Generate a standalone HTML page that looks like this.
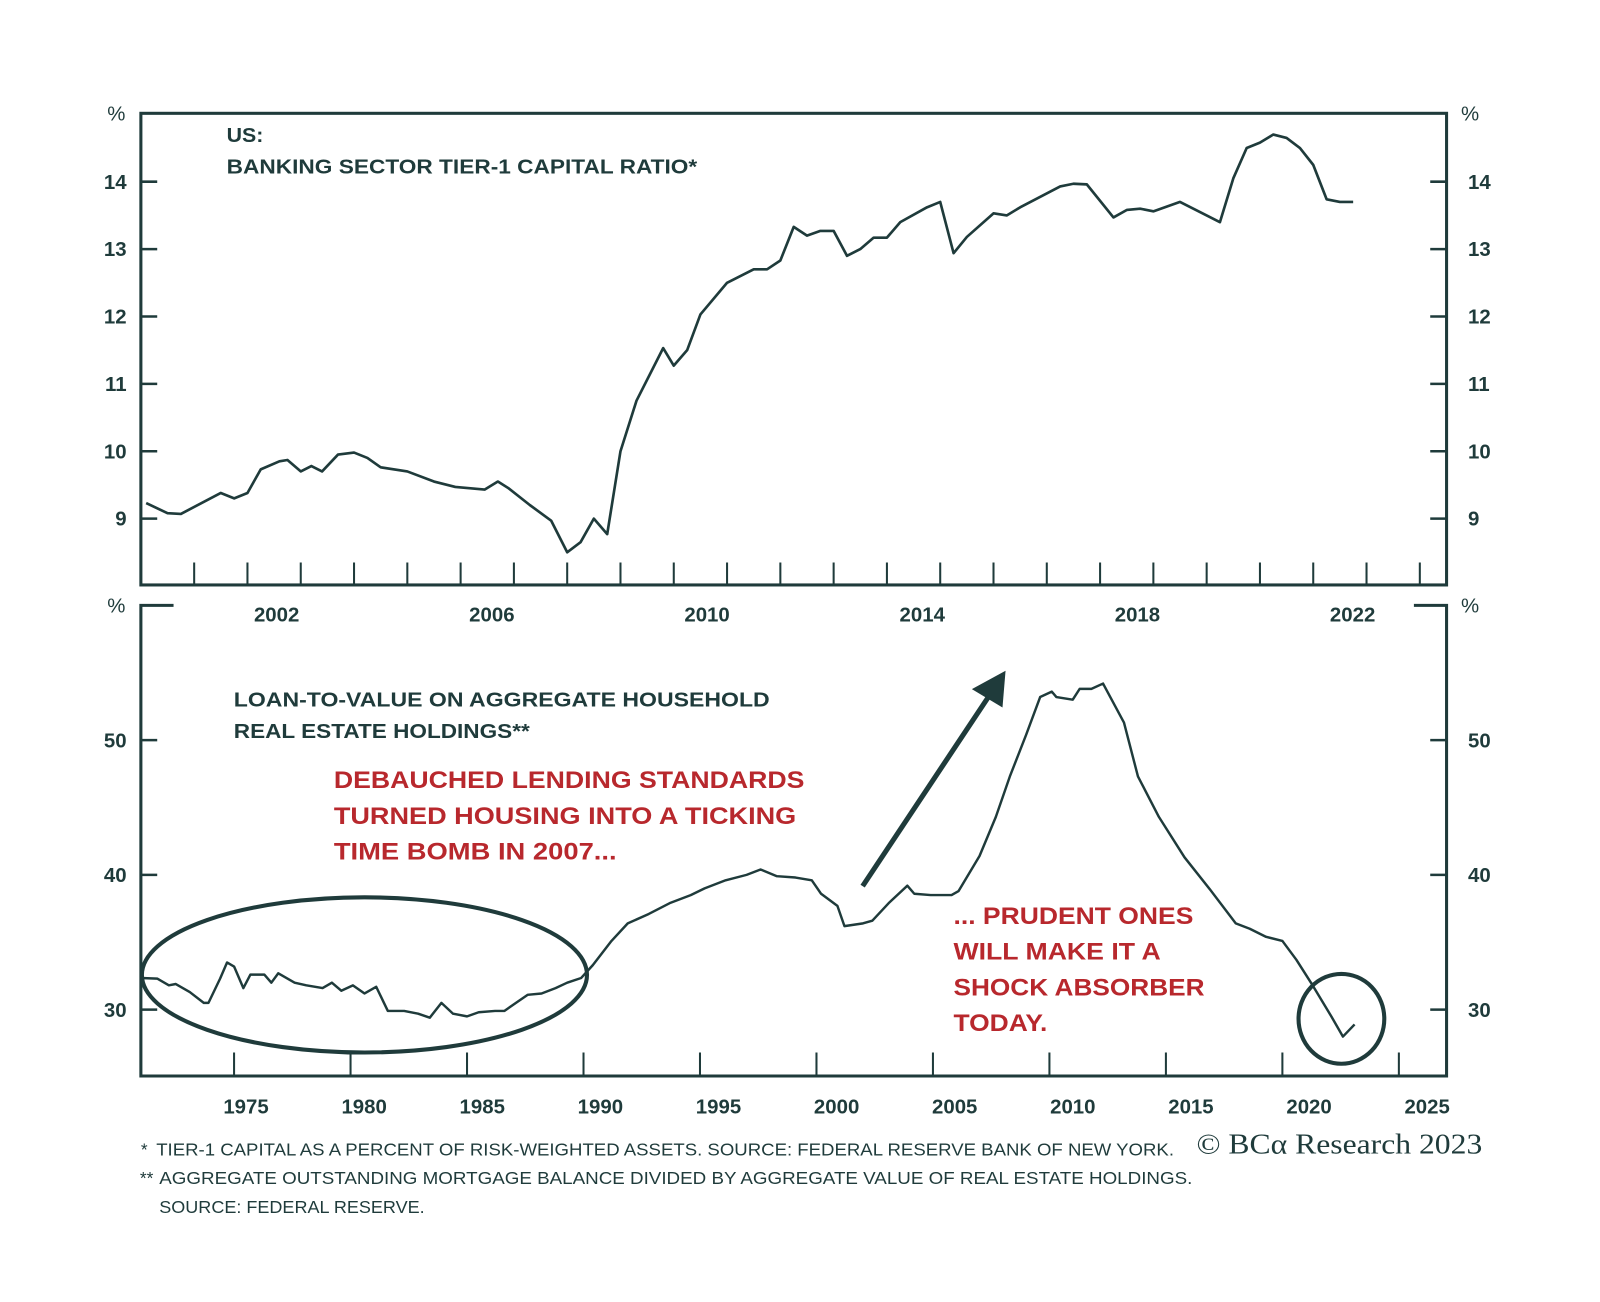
<!DOCTYPE html>
<html><head><meta charset="utf-8"><style>
html,body{margin:0;padding:0;background:#fff;}
svg{display:block;}
text{font-family:"Liberation Sans",sans-serif;}
</style></head><body>
<svg id="chart" width="1600" height="1302" viewBox="0 0 1567.3 1275.4" preserveAspectRatio="none" xmlns="http://www.w3.org/2000/svg">
<rect width="1570" height="1280" fill="#fff"/>
<g id="top"></g>
<g id="bot"></g>
<g font-weight="bold">
<text x="222" y="139" font-size="20" fill="#1f3b3b" textLength="36" lengthAdjust="spacingAndGlyphs">US:</text>
<text x="222" y="170" font-size="20" fill="#1f3b3b" textLength="461" lengthAdjust="spacingAndGlyphs">BANKING SECTOR TIER-1 CAPITAL RATIO*</text>
<text x="229" y="692" font-size="20" fill="#1f3b3b" textLength="525" lengthAdjust="spacingAndGlyphs">LOAN-TO-VALUE ON AGGREGATE HOUSEHOLD</text>
<text x="229" y="723" font-size="20" fill="#1f3b3b" textLength="290" lengthAdjust="spacingAndGlyphs">REAL ESTATE HOLDINGS**</text>
<g fill="#b8282d" font-size="24">
<text x="327" y="772" textLength="461" lengthAdjust="spacingAndGlyphs">DEBAUCHED LENDING STANDARDS</text>
<text x="327" y="807" textLength="453" lengthAdjust="spacingAndGlyphs">TURNED HOUSING INTO A TICKING</text>
<text x="327" y="842" textLength="277" lengthAdjust="spacingAndGlyphs">TIME BOMB IN 2007...</text>
</g>
<g fill="#b8282d" font-size="24">
<text x="934" y="905" textLength="235" lengthAdjust="spacingAndGlyphs">... PRUDENT ONES</text>
<text x="934" y="940" textLength="203" lengthAdjust="spacingAndGlyphs">WILL MAKE IT A</text>
<text x="934" y="975" textLength="246" lengthAdjust="spacingAndGlyphs">SHOCK ABSORBER</text>
<text x="934" y="1010" textLength="92" lengthAdjust="spacingAndGlyphs">TODAY.</text>
</g>
</g>
<g fill="#1f3b3b" font-size="17">
<text x="138" y="1132">*</text>
<text x="153" y="1132" textLength="997" lengthAdjust="spacingAndGlyphs">TIER-1 CAPITAL AS A PERCENT OF RISK-WEIGHTED ASSETS. SOURCE: FEDERAL RESERVE BANK OF NEW YORK.</text>
<text x="137" y="1160">**</text>
<text x="156" y="1160" textLength="1012" lengthAdjust="spacingAndGlyphs">AGGREGATE OUTSTANDING MORTGAGE BALANCE DIVIDED BY AGGREGATE VALUE OF REAL ESTATE HOLDINGS.</text>
<text x="156" y="1188" textLength="260" lengthAdjust="spacingAndGlyphs">SOURCE: FEDERAL RESERVE.</text>
</g>
<text x="1172" y="1130" font-size="28" fill="#1f3b3b" style="font-family:'Liberation Serif',serif" textLength="280" lengthAdjust="spacingAndGlyphs">© BCα Research 2023</text>
</svg>
<script>
const topDates=[2000.1,2000.5,2000.75,2001.5,2001.75,2002.0,2002.25,2002.6,2002.75,2003.0,2003.2,2003.4,2003.7,2004.0,2004.25,2004.5,2005.0,2005.5,2005.9,2006.45,2006.7,2006.9,2007.3,2007.7,2008.0,2008.25,2008.5,2008.75,2009.0,2009.3,2009.8,2010.0,2010.25,2010.5,2011.0,2011.5,2011.75,2012.0,2012.25,2012.5,2012.75,2013.0,2013.25,2013.5,2013.75,2014.0,2014.25,2014.75,2015.0,2015.25,2015.5,2016.0,2016.25,2016.5,2017.25,2017.5,2017.75,2018.25,2018.5,2018.75,2019.0,2019.5,2020.0,2020.25,2020.5,2020.75,2021.0,2021.25,2021.5,2021.75,2022.0,2022.25,2022.5,2022.75];
const topValues=[9.23,9.08,9.07,9.38,9.3,9.38,9.73,9.85,9.87,9.7,9.78,9.7,9.95,9.98,9.9,9.76,9.7,9.55,9.47,9.43,9.55,9.45,9.2,8.97,8.5,8.65,9.0,8.77,10.0,10.75,11.53,11.27,11.5,12.03,12.5,12.7,12.7,12.83,13.33,13.2,13.27,13.27,12.9,13.0,13.17,13.17,13.4,13.62,13.7,12.94,13.18,13.53,13.5,13.62,13.93,13.97,13.96,13.47,13.58,13.6,13.56,13.7,13.5,13.4,14.05,14.5,14.58,14.7,14.65,14.5,14.25,13.74,13.7,13.7];
const topYTicks=[9,10,11,12,13,14];
const topXLabels=[2002,2006,2010,2014,2018,2022];
const botDates=[1971.0,1971.7,1972.2,1972.5,1973.1,1973.7,1973.9,1974.4,1974.7,1975.0,1975.4,1975.7,1976.3,1976.6,1976.9,1977.6,1978.1,1978.8,1979.2,1979.6,1980.1,1980.6,1981.1,1981.6,1982.3,1982.9,1983.4,1983.9,1984.4,1985.0,1985.5,1986.2,1986.6,1987.1,1987.6,1988.2,1988.8,1989.3,1989.9,1990.4,1991.2,1991.9,1992.8,1993.7,1994.6,1995.2,1996.1,1997.0,1997.6,1998.3,1999.1,1999.8,2000.2,2000.9,2001.2,2002.0,2002.4,2003.1,2003.9,2004.2,2004.9,2005.8,2006.1,2007.0,2007.7,2008.3,2009.0,2009.6,2010.1,2010.3,2011.0,2011.3,2011.8,2012.3,2013.2,2013.8,2014.7,2015.8,2016.9,2018.0,2018.6,2019.3,2020.0,2020.6,2021.3,2022.1,2022.6,2023.1];
const botValues=[32.35,32.3,31.8,31.9,31.3,30.5,30.5,32.3,33.5,33.2,31.6,32.6,32.6,32.0,32.7,32.0,31.8,31.6,32.0,31.4,31.8,31.2,31.7,29.9,29.9,29.7,29.4,30.5,29.7,29.5,29.8,29.9,29.9,30.5,31.1,31.2,31.6,32.0,32.35,33.3,35.1,36.4,37.1,37.9,38.5,39.0,39.6,40.0,40.4,39.9,39.8,39.6,38.6,37.7,36.2,36.4,36.6,37.9,39.2,38.6,38.5,38.5,38.8,41.4,44.3,47.3,50.4,53.2,53.6,53.2,53.0,53.8,53.8,54.2,51.3,47.3,44.3,41.3,38.9,36.4,36.0,35.4,35.1,33.7,31.8,29.5,28.0,28.9];
const botYTicks=[30,40,50];
const botXTicks=[1975,1980,1985,1990,1995,2000,2005,2010,2015,2020,2025];

const NS='http://www.w3.org/2000/svg';
const C='#1f3b3b';
function mk(parent,tag,attrs,txt){const e=document.createElementNS(NS,tag);for(const k in attrs)e.setAttribute(k,attrs[k]);if(txt!==undefined)e.textContent=txt;parent.appendChild(e);return e;}
const L=138,R=1417;
const tx=y=>138+(y-2000)*52.2, ty=v=>178+(14-v)*66;
const tlx=y=>271+(y-2002)*52.7;
const T=document.getElementById('top');
let f=mk(T,'rect',{x:L,y:111,width:R-L,height:462,fill:'none',stroke:C,'stroke-width':3});


for(const v of topYTicks){
  mk(T,'line',{x1:L,x2:L+16,y1:ty(v),y2:ty(v),stroke:C,'stroke-width':2.5});
  mk(T,'line',{x1:R-16,x2:R,y1:ty(v),y2:ty(v),stroke:C,'stroke-width':2.5});
  let a=mk(T,'text',{x:124,y:ty(v)+7,'text-anchor':'end','font-size':20,'font-weight':'bold',fill:C},String(v));
  
  
  let b=mk(T,'text',{x:1438,y:ty(v)+7,'font-size':20,'font-weight':'bold',fill:C},String(v));
  
  
}
for(let y=2001;y<=2024;y++){mk(T,'line',{x1:tx(y),x2:tx(y),y1:551,y2:573,stroke:C,'stroke-width':2});}
for(const y of topXLabels){
  let a=mk(T,'text',{x:tlx(y),y:609,'text-anchor':'middle','font-size':20,'font-weight':'bold',fill:C},String(y));
  
  
}
mk(T,'text',{x:114,y:118,'text-anchor':'middle','font-size':20,fill:C},'%');
mk(T,'text',{x:1440,y:118,'text-anchor':'middle','font-size':20,fill:C},'%');
let p=mk(T,'path',{d:topDates.map((d,i)=>(i?'L':'M')+tx(d).toFixed(1)+','+ty(topValues[i]).toFixed(1)).join(''),fill:'none',stroke:C,'stroke-width':2.6,'stroke-linejoin':'round'});


const bx=y=>138+(y-1971)*22.82, by=v=>857+(40-v)*13.2;
const blx=y=>241+(y-1975)*23.14;
const B=document.getElementById('bot');
let fr=mk(B,'path',{d:`M170,593 L${L},593 L${L},1054 L${R},1054 L${R},593 L1385,593`,fill:'none',stroke:C,'stroke-width':3});


for(const v of botYTicks){
  mk(B,'line',{x1:L,x2:L+16,y1:by(v),y2:by(v),stroke:C,'stroke-width':2.5});
  mk(B,'line',{x1:R-16,x2:R,y1:by(v),y2:by(v),stroke:C,'stroke-width':2.5});
  let a=mk(B,'text',{x:124,y:by(v)+7,'text-anchor':'end','font-size':20,'font-weight':'bold',fill:C},String(v));
  
  
  let b=mk(B,'text',{x:1438,y:by(v)+7,'font-size':20,'font-weight':'bold',fill:C},String(v));
  
  
}
for(const y of botXTicks){
  mk(B,'line',{x1:bx(y),x2:bx(y),y1:1031,y2:1054,stroke:C,'stroke-width':2});
  let a=mk(B,'text',{x:blx(y),y:1091,'text-anchor':'middle','font-size':20,'font-weight':'bold',fill:C},String(y));
  
  
}
mk(B,'text',{x:114,y:600,'text-anchor':'middle','font-size':20,fill:C},'%');
mk(B,'text',{x:1440,y:600,'text-anchor':'middle','font-size':20,fill:C},'%');
let q=mk(B,'path',{d:botDates.map((d,i)=>(i?'L':'M')+bx(d).toFixed(1)+','+by(botValues[i]).toFixed(1)).join(''),fill:'none',stroke:C,'stroke-width':2.4,'stroke-linejoin':'round'});


let el=mk(B,'ellipse',{cx:357,cy:955,rx:218,ry:76,fill:'none',stroke:C,'stroke-width':4});


let ci=mk(B,'ellipse',{cx:1314,cy:998,rx:42,ry:44,fill:'none',stroke:C,'stroke-width':4});


let ar=mk(B,'line',{x1:845,y1:868,x2:972,y2:677,stroke:C,'stroke-width':5});


let ah=mk(B,'polygon',{points:'985,657 982,693 952,675',fill:C});


</script>
</body></html>
